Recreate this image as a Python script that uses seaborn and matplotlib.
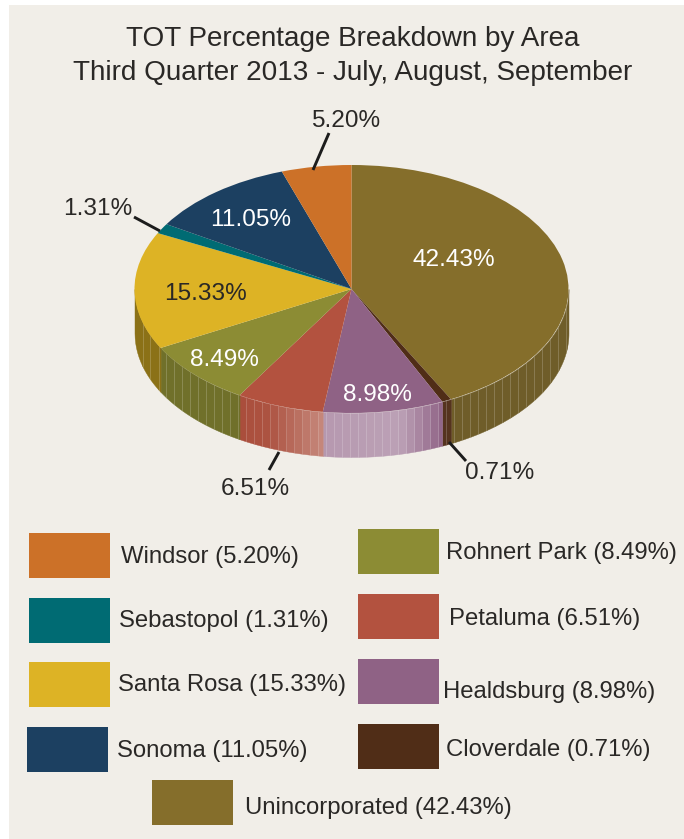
import numpy as np
import matplotlib
matplotlib.use("Agg")
import matplotlib.pyplot as plt
from matplotlib.colors import to_rgb
from matplotlib.patches import Rectangle
import seaborn as sns

names = ["Unincorporated", "Cloverdale", "Healdsburg", "Petaluma", "Rohnert Park",
         "Santa Rosa", "Sebastopol", "Sonoma", "Windsor"]
values = [42.43, 0.71, 8.98, 6.51, 8.49, 15.33, 1.31, 11.05, 5.20]
colors = ["#856E2B", "#502D17", "#8F6285", "#B3523F", "#8C8C34",
          "#DDB325", "#006B73", "#1C4061", "#CC7128"]
wall_dim = [0.8, 1.0, 1.0, 0.95, 0.8, 0.63, 0.8, 0.8, 0.8]
title_lines = ["TOT Percentage Breakdown by Area", "Third Quarter 2013 - July, August, September"]
BG = "#F1EEE8"
INK = "#2A2826"

sns.set_theme(style="white")
plt.rcParams["font.family"] = ["Liberation Sans", "DejaVu Sans"]
W, H = 684, 839
fig = plt.figure(figsize=(W / 100, H / 100), dpi=100, facecolor="white")

over = fig.add_axes([0, 0, 1, 1], zorder=3)
over.set_xlim(0, W); over.set_ylim(H, 0); over.axis("off"); over.patch.set_alpha(0)
back = fig.add_axes([0, 0, 1, 1], zorder=0)
back.set_xlim(0, W); back.set_ylim(H, 0); back.axis("off")
back.add_patch(Rectangle((9, 5), W - 9, H - 5, color=BG, lw=0))

# pie axes: unit circle maps onto the ellipse, extra room below for the wall
cx, cy, rx, ry, depth = 351.5, 289, 217, 124, 44
x0, x1 = cx - 1.05 * rx, cx + 1.05 * rx
y_top, y_bot = cy - 1.05 * ry, cy + ry + depth + 6
ax = fig.add_axes([x0 / W, 1 - y_bot / H, (x1 - x0) / W, (y_bot - y_top) / H], zorder=2)
ax.patch.set_alpha(0)
ax.pie(values, colors=sns.color_palette(colors), startangle=90, counterclock=False,
       radius=1, wedgeprops=dict(linewidth=0, antialiased=True, zorder=5))
ax.set_aspect("auto")
ax.set_xlim(-1.05, 1.05)
ax.set_ylim(-(ry + depth + 6) / ry, 1.05)
d = depth / ry

def shade(rgb, dim, a):
    """Wall colour: plain at the sides, washed out around the lower middle."""
    px = cx + rx * np.cos(a)
    glow = np.interp(px, [240, 270, 326, 400, 440], [0, 0.03, 0.35, 0.40, 0.03])
    base = np.array(rgb) * dim
    return tuple(np.clip(base + (1.0 - base) * glow, 0, 1))

edges = 90 - np.cumsum([0] + values) * 3.6
# facet boundaries evenly spaced along the horizontal, as in the reference
facet_a = -np.arccos(np.arange(-1, 1.0001, 8 / rx).clip(-1, 1))[::-1]
for i, c in enumerate(colors):
    a1, a0 = np.deg2rad(edges[i]), np.deg2rad(edges[i + 1])  # a0 < a1, clockwise
    lo, hi = max(a0, -np.pi), min(a1, 0.0)
    if hi <= lo:
        continue
    rgb = to_rgb(c)
    inner = facet_a[(facet_a > lo + 1e-3) & (facet_a < hi - 1e-3)]
    grid = np.concatenate([[lo], inner[::-1][::-1], [hi]])
    grid = np.sort(grid)
    for a, b in zip(grid[:-1], grid[1:]):
        t = np.linspace(a, b, 8)
        ax.fill_between(np.cos(t), np.sin(t), np.sin(t) - d,
                        color=shade(rgb, wall_dim[i], (a + b) / 2), lw=0.3, zorder=1)
    for a in inner:
        ax.plot([np.cos(a)] * 2, [np.sin(a), np.sin(a) - d], color="white",
                alpha=0.22, lw=0.6, zorder=2)

for j, line in enumerate(title_lines):
    over.text(353, 39.5 + 34 * j, line, ha="center", va="center", fontsize=20.05, color=INK)

# value labels, in the order of `values`
lab_x = [454, 500, 377, 255, 205 + 19, 205, 98, 251, 346]
lab_y = [260, 473, 395, 489, 360, 294, 209, 220, 121]
lab_c = ["white", INK, "white", INK, "white", INK, INK, "white", INK]
for v, x, y, c in zip(values, lab_x, lab_y, lab_c):
    over.text(x, y, f"{v:.2f}%", ha="center", va="center", fontsize=17.6, color=c)

# leader lines: Windsor, Sebastopol, Petaluma, Cloverdale
for (xa, ya, xb, yb) in [(329, 133, 313, 170), (134, 217, 160, 231),
                         (269, 470, 279, 452), (449, 442, 466, 461)]:
    over.plot([xa, xb], [ya, yb], color="#1c1c1c", lw=2.1, solid_capstyle="butt")

# legend, in its own reading order
leg_order = ["Windsor", "Sebastopol", "Santa Rosa", "Sonoma", "Rohnert Park",
             "Petaluma", "Healdsburg", "Cloverdale", "Unincorporated"]
sw_x = [29, 29, 29, 27, 358, 358, 358, 358, 152]
sw_y = [533, 598, 662, 727, 529, 594, 659, 724, 780]
tx_x = [121, 119, 118, 117, 446, 449, 443, 446, 245]
tx_y = [557, 621, 685, 751, 553, 619, 692, 750, 808]
for n, sx, sy, tx, ty in zip(leg_order, sw_x, sw_y, tx_x, tx_y):
    k = names.index(n)
    over.add_patch(Rectangle((sx, sy), 81, 45, color=colors[k], lw=0))
    over.text(tx, ty, f"{n} ({values[k]:.2f}%)", ha="left", va="center", fontsize=17.2, color=INK)

fig.savefig("out.png", dpi=100, facecolor="white")
